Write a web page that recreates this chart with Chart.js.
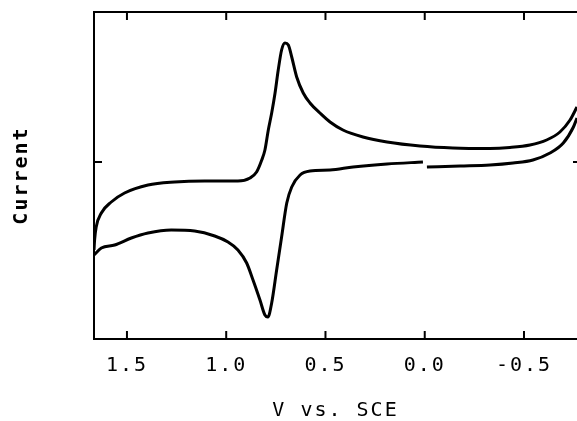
<!DOCTYPE html>
<html>
<head>
<meta charset="utf-8">
<script src="https://cdn.jsdelivr.net/npm/chart.js@4.4.0/dist/chart.umd.min.js"></script>
<style>
html, body { margin: 0; padding: 0; background: #fff; }
#wrap { width: 577px; height: 421px; }
</style>
</head>
<body>
<div id="wrap"><canvas id="cv"></canvas></div>
<script>
// potential (V vs. SCE) and current (arb. units)
var upperV = [1.666, 1.663, 1.655, 1.629, 1.579, 1.512, 1.394, 1.260, 1.109, 0.941, 0.880, 0.847, 0.821, 0.805, 0.788, 0.771, 0.754, 0.738, 0.721, 0.704, 0.687, 0.670, 0.645, 0.612, 0.578, 0.528, 0.477, 0.412, 0.311, 0.190, 0.024, -0.142, -0.329, -0.429, -0.530, -0.614, -0.681, -0.732, -0.767];
var upperI = [-8.8, -7.8, -6.5, -5.1, -4.0, -3.1, -2.3, -2.0, -1.9, -1.9, -1.6, -1.0, 0.2, 1.2, 3.2, 4.9, 6.9, 9.2, 11.2, 11.9, 11.7, 10.5, 8.5, 6.9, 5.9, 4.9, 4.0, 3.2, 2.5, 2.0, 1.6, 1.4, 1.35, 1.45, 1.7, 2.2, 3.0, 4.2, 5.5];

var lowerV = [1.666, 1.629, 1.562, 1.478, 1.394, 1.277, 1.159, 1.058, 0.991, 0.941, 0.897, 0.865, 0.830, 0.805, 0.790, 0.771, 0.746, 0.721, 0.695, 0.670, 0.628, 0.578, 0.477, 0.361, 0.190, 0.009, 0.0, -0.011, -0.178, -0.329, -0.445, -0.545, -0.631, -0.698, -0.749, -0.767];
var lowerI = [-9.3, -8.6, -8.3, -7.6, -7.1, -6.8, -6.9, -7.4, -8.0, -8.8, -10.1, -11.8, -13.8, -15.3, -15.5, -14.1, -10.8, -7.5, -4.1, -2.5, -1.3, -0.9, -0.8, -0.5, -0.2, 0.0, null, -0.5, -0.4, -0.3, -0.1, 0.2, 0.9, 1.9, 3.5, 4.4];

var xTicks = [1.5, 1.0, 0.5, 0.0, -0.5];
var xTickLabels = ['1.5', '1.0', '0.5', '0.0', '-0.5'];
var yTicks = [0];
var xRange = [-0.767, 1.666];
var yRange = [-17.7, 15.0];

function toPoints(xs, ys) {
	return xs.map(function(x, i) { return { x: x, y: ys[i] }; });
}

var frame = {
	id: 'frame',
	beforeUpdate: function(chart) { chart.ctx.letterSpacing = '2px'; },
	beforeDraw: function(chart) { chart.ctx.letterSpacing = '2px'; },
	afterDatasetsDraw: function(chart) {
		var a = chart.chartArea, ctx = chart.ctx;
		var xs = chart.scales.x, ys = chart.scales.y;
		ctx.save();
		ctx.strokeStyle = '#000';
		ctx.lineWidth = 2;
		ctx.beginPath();
		ctx.moveTo(a.right, a.top);
		ctx.lineTo(a.left, a.top);
		ctx.lineTo(a.left, a.bottom);
		ctx.lineTo(a.right, a.bottom);
		xTicks.forEach(function(v) {
			var px = xs.getPixelForValue(v);
			ctx.moveTo(px, a.top); ctx.lineTo(px, a.top + 8);
			ctx.moveTo(px, a.bottom); ctx.lineTo(px, a.bottom - 8);
		});
		yTicks.forEach(function(v) {
			var py = ys.getPixelForValue(v);
			ctx.moveTo(a.left, py); ctx.lineTo(a.left + 8, py);
			ctx.moveTo(a.right, py); ctx.lineTo(a.right - 4, py);
		});
		ctx.stroke();
		ctx.restore();
	}
};

var monoFont = "'DejaVu Sans Mono', monospace";

new Chart(document.getElementById('cv').getContext('2d'), {
	type: 'scatter',
	data: {
		datasets: [
			{
				label: 'forward',
				data: toPoints(upperV, upperI),
				showLine: true,
				borderColor: '#000',
				borderWidth: 3,
				pointRadius: 0,
				cubicInterpolationMode: 'monotone'
			},
			{
				label: 'reverse',
				data: toPoints(lowerV, lowerI),
				showLine: true,
				spanGaps: false,
				borderColor: '#000',
				borderWidth: 3,
				pointRadius: 0,
				cubicInterpolationMode: 'monotone'
			}
		]
	},
	options: {
		animation: false,
		responsive: true,
		maintainAspectRatio: false,
		devicePixelRatio: 1,
		layout: { padding: { top: 12, right: 0, left: 0, bottom: 0 } },
		plugins: {
			legend: { display: false },
			tooltip: { enabled: false }
		},
		scales: {
			x: {
				type: 'linear',
				reverse: true,
				min: xRange[0],
				max: xRange[1],
				grid: { display: false },
				border: { display: false },
				afterBuildTicks: function(s) { s.ticks = xTicks.map(function(v) { return { value: v }; }); },
				afterFit: function(s) { s.height = 82; },
				ticks: {
					autoSkip: false,
					maxRotation: 0,
					padding: 7,
					color: '#000',
					font: { family: monoFont, size: 20 },
					callback: function(value, index) { return xTickLabels[index]; }
				},
				title: {
					display: true,
					text: 'V vs. SCE',
					color: '#000',
					padding: 0,
					font: { family: monoFont, size: 20, lineHeight: 1.0 }
				}
			},
			y: {
				min: yRange[0],
				max: yRange[1],
				grid: { display: false },
				border: { display: false },
				ticks: { display: false },
				afterBuildTicks: function(s) { s.ticks = yTicks.map(function(v) { return { value: v }; }); },
				afterFit: function(s) { s.width = 94; },
				title: {
					display: true,
					text: 'Current',
					color: '#000',
					padding: { top: 10, bottom: 0 },
					font: { family: monoFont, size: 20, weight: 'bold' }
				}
			}
		}
	},
	plugins: [frame]
});
</script>
</body>
</html>
